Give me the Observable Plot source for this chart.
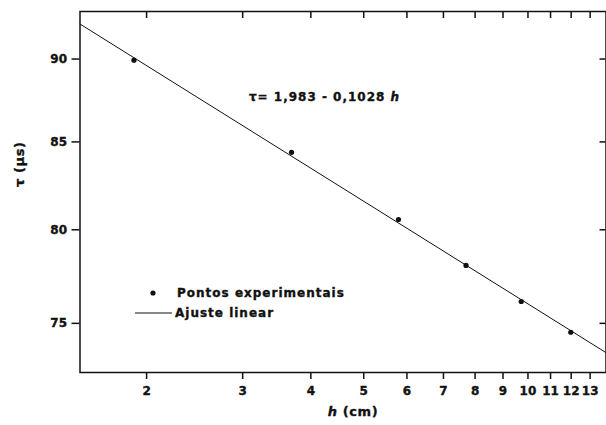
<!DOCTYPE html>
<html>
<head>
<meta charset="utf-8">
<script src="https://cdn.jsdelivr.net/npm/d3@7"></script>
<script src="https://cdn.jsdelivr.net/npm/@observablehq/plot@0.6"></script>
<style>
  html, body { margin: 0; padding: 0; background: white; }
  #chart { width: 606px; height: 425px; }
</style>
</head>
<body>
<div id="chart"></div>
<script>
// ---- data ----
const xTicks = [2, 3, 4, 5, 6, 7, 8, 9, 10, 11, 12, 13];
const yTicks = [75, 80, 85, 90];
const hValues = [1.896, 3.687, 5.79, 7.70, 9.72, 11.98];
const tauValues = [89.93, 84.39, 80.57, 78.06, 76.14, 74.54];
const fitH = [1.51, 13.9];
const fitTau = [92.2, 73.5];
const equationText = "τ= 1,983 - 0,1028 h";
const eqPos = {h: 3.08, tau: 87.69};
const legendLabels = ["Pontos experimentais", "Ajuste linear"];
const xLabel = "h (cm)";
const yLabel = "τ (μs)";

const points = hValues.map((h, i) => ({h, tau: tauValues[i]}));
const fit = fitH.map((h, i) => ({h, tau: fitTau[i]}));

const W = 606, H = 425;
const mL = 79.5, mR = 0.5, mT = 11, mB = 53;
const plotW = W - mL - mR, plotH = H - mT - mB;
const ink = "#111";
const font = "DejaVu Sans";

const svg = Plot.plot({
  width: W, height: H,
  marginLeft: mL, marginRight: mR, marginTop: mT, marginBottom: mB,
  x: {type: "log", domain: [1.51, 13.9], axis: null},
  y: {type: "log", domain: [72.5, 93.0], axis: null},
  style: {fontFamily: font, fontWeight: "bold", background: "white", color: ink},
  marks: [
    // outer ticks (bottom, left)
    Plot.ruleX(xTicks, {x: d => d, insetTop: plotH, insetBottom: -7, stroke: ink, strokeWidth: 1.5}),
    Plot.ruleY(yTicks, {y: d => d, insetRight: plotW, insetLeft: -8, stroke: ink, strokeWidth: 1.5}),
    // mirrored inner ticks (top, right)
    Plot.ruleX(xTicks, {x: d => d, insetBottom: plotH - 7, stroke: ink, strokeWidth: 1.5}),
    Plot.ruleY(yTicks, {y: d => d, insetLeft: plotW - 6, stroke: ink, strokeWidth: 1.5}),
    // tick labels
    Plot.text(xTicks, {x: d => d, frameAnchor: "bottom", dy: 22, text: d => String(d),
      fontSize: 12, fill: ink}),
    Plot.text(yTicks, {y: d => d, frameAnchor: "left", dx: -13, textAnchor: "end", text: d => String(d),
      fontSize: 12, fill: ink}),
    Plot.line(fit, {x: "h", y: "tau", stroke: ink, strokeWidth: 1}),
    Plot.dot(points, {x: "h", y: "tau", r: 2.6, fill: ink, stroke: null}),
    Plot.text([equationText], {x: () => eqPos.h, y: () => eqPos.tau, text: d => d,
      textAnchor: "start", fontSize: 12, fill: ink}),
    Plot.text([xLabel], {frameAnchor: "bottom", dx: 10, dy: 43, text: d => d, fontSize: 13, fill: ink}),
    Plot.text([yLabel], {frameAnchor: "left", dx: -60, dy: -5, rotate: -90, text: d => d, fontSize: 13, fill: ink}),
    Plot.frame({stroke: ink, strokeWidth: 1.5})
  ]
});

// letter spacing, heavier weight + italic h
d3.select(svg).selectAll("text").each(function() {
  const t = this.textContent;
  this.setAttribute("letter-spacing", /^\d+$/.test(t) ? "0" : "0.6");
  this.setAttribute("stroke", ink);
  this.setAttribute("stroke-width", "0.35");
  if (t === equationText) {
    this.setAttribute("letter-spacing", "1");
    this.innerHTML = 'τ= 1,983 - 0,1028 <tspan font-style="italic">h</tspan>';
  } else if (t === xLabel) {
    this.innerHTML = '<tspan font-style="italic">h</tspan> (cm)';
  }
});

// legend inside the frame
const lg = d3.select(svg).append("g")
  .attr("font-family", font).attr("font-weight", "bold").attr("font-size", 12)
  .attr("letter-spacing", 1).attr("text-anchor", "start").attr("fill", ink);
lg.append("circle").attr("cx", 153).attr("cy", 293).attr("r", 2.6).attr("fill", ink);
lg.append("text").attr("x", 177).attr("y", 293).attr("dy", "0.35em")
  .attr("stroke", ink).attr("stroke-width", 0.35).text(legendLabels[0]);
lg.append("line").attr("x1", 135).attr("x2", 172).attr("y1", 313).attr("y2", 313)
  .attr("stroke", ink).attr("stroke-width", 1);
lg.append("text").attr("x", 175).attr("y", 313).attr("dy", "0.35em")
  .attr("stroke", ink).attr("stroke-width", 0.35).text(legendLabels[1]);

document.getElementById("chart").appendChild(svg);
</script>
</body>
</html>
